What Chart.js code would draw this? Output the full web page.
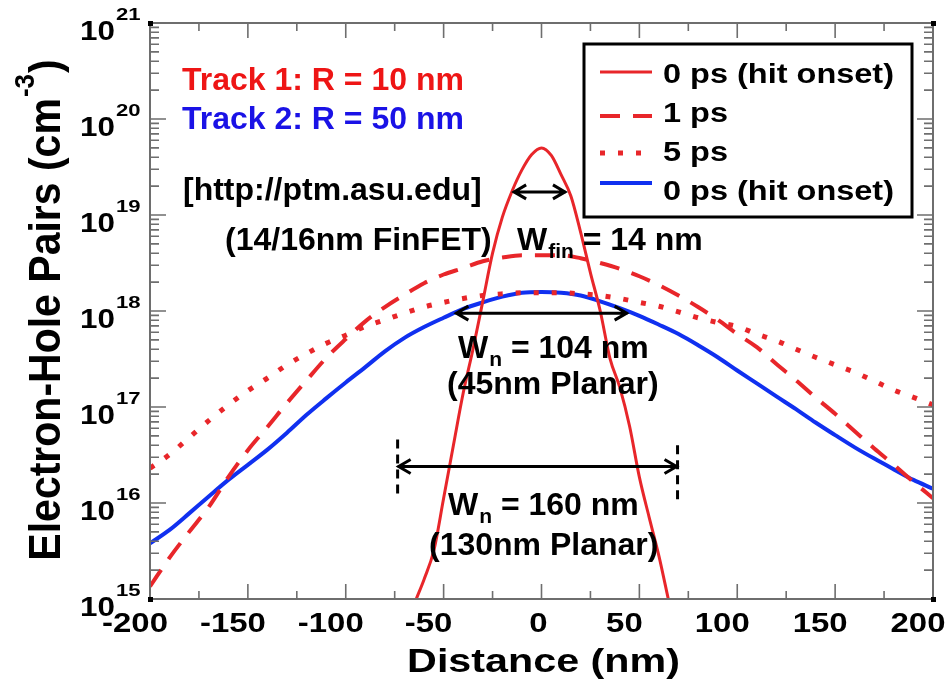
<!DOCTYPE html>
<html>
<head>
<meta charset="utf-8">
<script src="https://cdn.jsdelivr.net/npm/chart.js@4.4.1/dist/chart.umd.min.js"></script>
<style>
  html, body { margin: 0; padding: 0; background: #fff; }
  canvas { display: block; }
</style>
</head>
<body>
<canvas id="pairs_chart" width="950" height="685"></canvas>
<script>
// distance grid (nm) shared by the wide profiles
const distanceGrid = [-200, -190, -180, -170, -160, -150, -140, -130, -120, -110, -100, -90, -80, -70, -60, -50, -40, -30, -20, -10,
    0, 10, 20, 30, 40, 50, 60, 70, 80, 90, 100, 110, 120, 130, 140, 150, 160, 170, 180, 190, 200];

// track 1 (R = 10 nm) at hit onset, narrow profile with its own sample points
const track1OnsetX = [-64, -60, -55, -50, -45, -40, -35, -30, -25, -20, -15, -10, -5, 0, 5, 10, 15, 20, 25, 30, 35, 40, 45, 50, 55, 60, 65];
const track1Onset = [1.0e15, 1.6e15, 3.2e15, 1.12e16, 4.0e16, 1.4e17, 4.0e17, 1.26e18, 4.0e18, 9.5e18, 1.78e19, 2.95e19, 4.27e19, 5.0e19,
    4.17e19, 2.63e19, 1.58e19, 6.6e18, 2.5e18, 1.0e18, 3.2e17, 1.6e17, 6.3e16, 1.86e16, 7.1e15, 2.8e15, 9.5e14];

// track 1 after 1 ps
const track1At1ps = [1.35e15, 2.7e15, 5.0e15, 9.1e15, 1.86e16, 3.55e16, 6.2e16, 1.1e17, 1.9e17, 3.24e17, 5.1e17, 7.8e17, 1.1e18, 1.48e18,
    1.95e18, 2.4e18, 2.8e18, 3.3e18, 3.6e18, 3.8e18, 3.8e18, 3.8e18, 3.55e18, 3.16e18, 2.75e18, 2.3e18, 1.86e18, 1.45e18, 1.1e18,
    8.1e17, 5.75e17, 4.2e17, 2.8e17, 1.9e17, 1.26e17, 8.5e16, 5.6e16, 3.7e16, 2.5e16, 1.66e16, 1.12e16];

// track 1 after 5 ps
const track1At5ps = [2.3e16, 3.2e16, 4.8e16, 7.2e16, 1.05e17, 1.48e17, 2.0e17, 2.75e17, 3.6e17, 4.6e17, 5.6e17, 6.9e17, 8.1e17, 9.5e17,
    1.1e18, 1.23e18, 1.35e18, 1.45e18, 1.51e18, 1.55e18, 1.55e18, 1.55e18, 1.51e18, 1.45e18, 1.35e18, 1.23e18, 1.12e18, 9.8e17, 8.5e17,
    7.6e17, 6.9e17, 5.75e17, 4.9e17, 4.0e17, 3.3e17, 2.75e17, 2.3e17, 1.86e17, 1.5e17, 1.26e17, 1.05e17];

// track 2 (R = 50 nm) at hit onset
const track2Onset = [3.8e15, 5.25e15, 7.8e15, 1.17e16, 1.74e16, 2.5e16, 3.6e16, 5.4e16, 8.3e16, 1.23e17, 1.8e17, 2.6e17, 3.8e17, 5.25e17,
    6.8e17, 8.5e17, 1.05e18, 1.23e18, 1.41e18, 1.55e18, 1.58e18, 1.55e18, 1.45e18, 1.26e18, 1.07e18, 8.9e17, 7.2e17, 5.75e17, 4.4e17,
    3.3e17, 2.4e17, 1.76e17, 1.29e17, 9.5e16, 6.9e16, 5.1e16, 3.8e16, 2.9e16, 2.24e16, 1.74e16, 1.41e16];

const seriesLabels = ["0 ps (hit onset)", "1 ps", "5 ps", "0 ps (hit onset)"];
const xTickValues = [-200, -150, -100, -50, 0, 50, 100, 150, 200];
const xMinorTickValues = [-175, -125, -75, -25, 25, 75, 125, 175];
const yDecadeExponents = [15, 16, 17, 18, 19, 20, 21];

// width markers, in data units
const widthArrows = [
    { from: -14.5, to: 12.5, at: 1.74e19 },
    { from: -44, to: 44, at: 9.5e17 },
    { from: -73.5, to: 69.5, at: 2.4e16 }
];
const nodeMarkers = [
    { x: -73.5, top: 4.6e16, bottom: 1.15e16 },
    { x: 69.5, top: 4.0e16, bottom: 1.0e16 }
];

var RED = "#e8262a";
var BLUE = "#1030f0";
var FONT = '"Liberation Sans", Arial, Helvetica, sans-serif';

function toPoints(xs, ys) {
    return xs.map(function(x, i) { return { x: x, y: ys[i] }; });
}

function drawText(ctx, str, x, y, size, color, stretch, align) {
    ctx.save();
    ctx.font = "bold " + size + "px " + FONT;
    ctx.fillStyle = color;
    ctx.textBaseline = "alphabetic";
    ctx.textAlign = "left";
    var w = ctx.measureText(str).width * stretch;
    var left = x;
    if (align === "center") left = x - w / 2;
    else if (align === "right") left = x - w;
    ctx.translate(left, y);
    ctx.scale(stretch, 1);
    ctx.fillText(str, 0, 0);
    ctx.restore();
    return w;
}

function drawSubLabel(ctx, main, sub, rest, x, y) {
    var w = drawText(ctx, main, x, y, 32, "#000", 1, "left");
    var ws = drawText(ctx, sub, x + w + 1, y + 8, 21, "#000", 1, "left");
    drawText(ctx, rest, x + w + ws + 1, y, 32, "#000", 1, "left");
}

function drawDoubleArrow(ctx, x1, x2, y) {
    ctx.save();
    ctx.strokeStyle = "#000";
    ctx.lineWidth = 3;
    ctx.beginPath();
    ctx.moveTo(x1, y);
    ctx.lineTo(x2, y);
    ctx.moveTo(x1 + 13, y - 7);
    ctx.lineTo(x1 + 1, y);
    ctx.lineTo(x1 + 13, y + 7);
    ctx.moveTo(x2 - 13, y - 7);
    ctx.lineTo(x2 - 1, y);
    ctx.lineTo(x2 - 13, y + 7);
    ctx.stroke();
    ctx.restore();
}

var figureDecor = {
    id: "figureDecor",
    beforeDraw: function(chart) {
        var ctx = chart.ctx;
        ctx.save();
        ctx.fillStyle = "#fff";
        ctx.fillRect(0, 0, chart.width, chart.height);
        ctx.restore();
    },
    afterDatasetsDraw: function(chart) {
        var ctx = chart.ctx;
        var area = chart.chartArea;
        var xs = chart.scales.x;
        var ys = chart.scales.y;

        // frame
        ctx.save();
        ctx.strokeStyle = "#6e6e6e";
        ctx.lineWidth = 2;
        ctx.strokeRect(area.left, area.top, area.right - area.left, area.bottom - area.top);

        // ticks, pointing inward on all four sides
        ctx.lineWidth = 1.6;
        ctx.beginPath();
        xTickValues.concat(xMinorTickValues).forEach(function(v) {
            var px = xs.getPixelForValue(v);
            var len = xTickValues.indexOf(v) >= 0 ? 15 : 8;
            ctx.moveTo(px, area.bottom);
            ctx.lineTo(px, area.bottom - len);
            ctx.moveTo(px, area.top);
            ctx.lineTo(px, area.top + len);
        });
        yDecadeExponents.forEach(function(e, i) {
            var py = ys.getPixelForValue(Math.pow(10, e));
            ctx.moveTo(area.left, py);
            ctx.lineTo(area.left + 16, py);
            ctx.moveTo(area.right, py);
            ctx.lineTo(area.right - 16, py);
            if (i < yDecadeExponents.length - 1) {
                for (var m = 2; m <= 9; m++) {
                    var pm = ys.getPixelForValue(m * Math.pow(10, e));
                    ctx.moveTo(area.left, pm);
                    ctx.lineTo(area.left + 9, pm);
                    ctx.moveTo(area.right, pm);
                    ctx.lineTo(area.right - 9, pm);
                }
            }
        });
        ctx.stroke();

        // corner squares
        ctx.fillStyle = "#000";
        [[area.left, area.top], [area.right, area.top], [area.left, area.bottom], [area.right, area.bottom]].forEach(function(c) {
            ctx.fillRect(c[0] - 2, c[1] - 2, 5, 5);
        });
        ctx.restore();

        // tick labels
        yDecadeExponents.forEach(function(e) {
            var py = ys.getPixelForValue(Math.pow(10, e));
            drawText(ctx, "10", area.left - 35, py + 17, 28, "#000", 1.12, "right");
            drawText(ctx, String(e), area.left - 34, py - 3, 17, "#000", 1.3, "left");
        });
        xTickValues.forEach(function(v) {
            var px = xs.getPixelForValue(v);
            var shift = v === 0 ? -3 : -15;
            drawText(ctx, String(v), px + shift, area.bottom + 33, 27, "#000", 1.22, "center");
        });

        // axis titles
        drawText(ctx, "Distance (nm)", (area.left + area.right) / 2 + 2, 672, 33, "#000", 1.25, "center");
        ctx.save();
        ctx.translate(60, (area.top + area.bottom) / 2);
        ctx.rotate(-Math.PI / 2);
        ctx.fillStyle = "#000";
        ctx.textBaseline = "alphabetic";
        ctx.font = "bold 41px " + FONT;
        var p1 = "Electron-Hole Pairs (cm";
        var w1 = ctx.measureText(p1).width;
        var w3 = ctx.measureText(")").width;
        ctx.font = "bold 26px " + FONT;
        var w2 = ctx.measureText("-3").width;
        var start = -(w1 + w2 + w3) / 2;
        ctx.scale(1, 1.08);
        ctx.font = "bold 41px " + FONT;
        ctx.fillText(p1, start, 0);
        ctx.fillText(")", start + w1 + w2 + 2, 0);
        ctx.font = "bold 26px " + FONT;
        ctx.fillText("-3", start + w1 + 1, -24);
        ctx.restore();

        // width arrows and node markers
        widthArrows.forEach(function(a) {
            drawDoubleArrow(ctx, xs.getPixelForValue(a.from), xs.getPixelForValue(a.to), ys.getPixelForValue(a.at));
        });
        ctx.save();
        ctx.strokeStyle = "#000";
        ctx.lineWidth = 3;
        ctx.setLineDash([9, 6]);
        nodeMarkers.forEach(function(m) {
            var px = xs.getPixelForValue(m.x);
            ctx.beginPath();
            ctx.moveTo(px, ys.getPixelForValue(m.top));
            ctx.lineTo(px, ys.getPixelForValue(m.bottom));
            ctx.stroke();
        });
        ctx.restore();

        // annotations
        drawText(ctx, "Track 1: R = 10 nm", 182, 90, 32, "#ee1515", 1, "left");
        drawText(ctx, "Track 2: R = 50 nm", 182, 129, 32, "#1a12e6", 1, "left");
        drawText(ctx, "[http://ptm.asu.edu]", 183, 200, 32, "#000", 1, "left");
        drawText(ctx, "(14/16nm FinFET)", 225, 250, 32, "#000", 1, "left");
        drawSubLabel(ctx, "W", "fin", " = 14 nm", 517, 250);
        drawSubLabel(ctx, "W", "n", " = 104 nm", 458, 358);
        drawText(ctx, "(45nm Planar)", 447, 394, 32, "#000", 1, "left");
        drawSubLabel(ctx, "W", "n", " = 160 nm", 448, 515);
        drawText(ctx, "(130nm Planar)", 429, 555, 32, "#000", 1, "left");

        // legend box
        var rowBase = [83, 122, 161, 200];
        var rowLine = [72, 116, 153, 183];
        ctx.save();
        ctx.fillStyle = "#fff";
        ctx.fillRect(584, 44, 328, 173);
        ctx.strokeStyle = "#000";
        ctx.lineWidth = 3;
        ctx.strokeRect(584, 44, 328, 173);
        chart.data.datasets.forEach(function(ds, i) {
            ctx.beginPath();
            ctx.strokeStyle = ds.borderColor;
            ctx.lineWidth = ds.borderWidth;
            ctx.setLineDash(ds.borderDash || []);
            ctx.lineCap = "butt";
            ctx.moveTo(600, rowLine[i]);
            ctx.lineTo(652, rowLine[i]);
            ctx.stroke();
            drawText(ctx, ds.label, 663, rowBase[i], 28, "#000", 1.16, "left");
        });
        ctx.restore();
    }
};

new Chart("pairs_chart", {
    type: "line",
    data: {
        datasets: [{
                label: seriesLabels[0],
                data: toPoints(track1OnsetX, track1Onset),
                borderColor: RED,
                borderWidth: 3,
            },
            {
                label: seriesLabels[1],
                data: toPoints(distanceGrid, track1At1ps),
                borderColor: RED,
                borderWidth: 4,
                borderDash: [20, 13],
            },
            {
                label: seriesLabels[2],
                data: toPoints(distanceGrid, track1At5ps),
                borderColor: RED,
                borderWidth: 5,
                borderDash: [5, 13],
            },
            {
                label: seriesLabels[3],
                data: toPoints(distanceGrid, track2Onset),
                borderColor: BLUE,
                borderWidth: 4,
            },
        ]
    },
    options: {
        responsive: false,
        animation: false,
        events: [],
        layout: {
            padding: { top: 23, right: 17, left: 0, bottom: 0 }
        },
        elements: {
            point: { radius: 0 },
            line: { fill: false, cubicInterpolationMode: "monotone", borderCapStyle: "butt" }
        },
        plugins: {
            legend: { display: false },
            tooltip: { enabled: false }
        },
        scales: {
            x: {
                type: "linear",
                min: -200,
                max: 200,
                grid: { display: false },
                border: { display: false },
                ticks: { display: false },
                afterFit: function(scale) { scale.height = 86; }
            },
            y: {
                type: "logarithmic",
                min: 1e15,
                max: 1e21,
                grid: { display: false },
                border: { display: false },
                ticks: { display: false },
                afterFit: function(scale) { scale.width = 150; }
            }
        }
    },
    plugins: [figureDecor]
});
</script>
</body>
</html>
